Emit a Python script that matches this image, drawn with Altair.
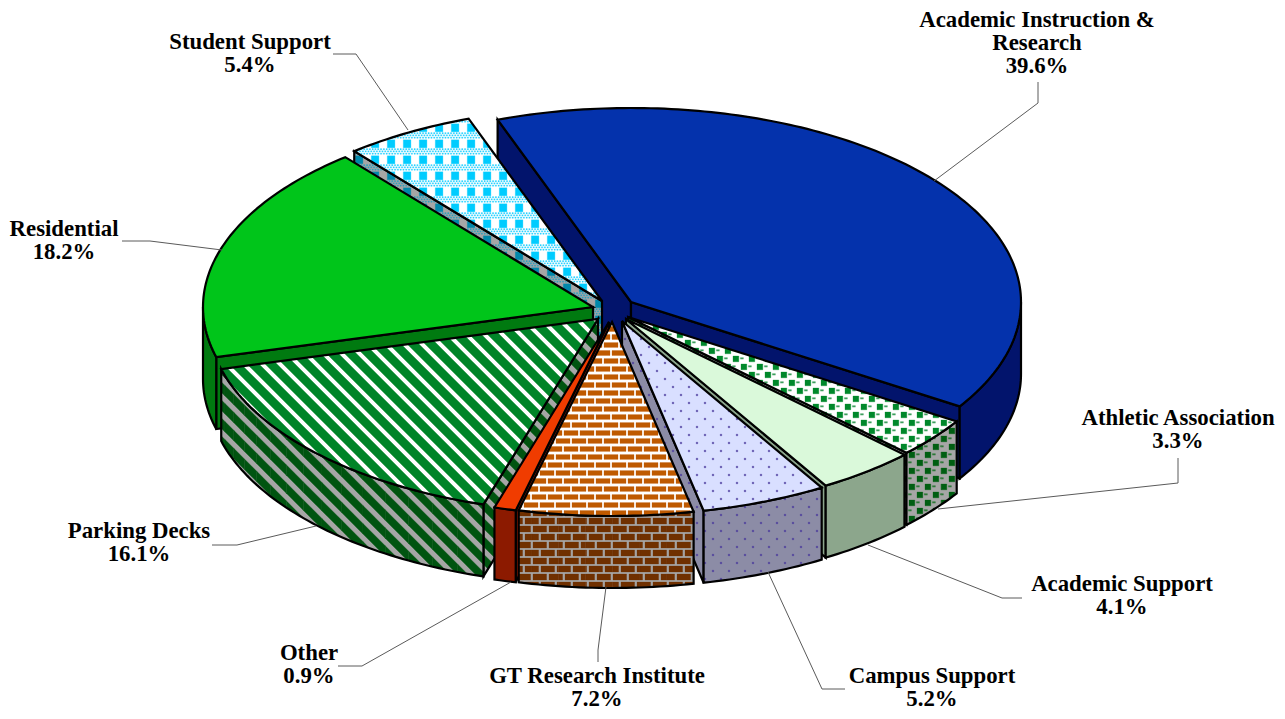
import math
import altair as alt
import pandas as pd

alt.data_transformers.disable_max_rows()

CATEGORIES = ["Academic Instruction & Research", "Athletic Association", "Academic Support",
              "Campus Support", "GT Research Institute", "Other", "Parking Decks",
              "Residential", "Student Support"]
SHARES = [39.6, 3.3, 4.1, 5.2, 7.2, 0.9, 16.1, 18.2, 5.4]

LABEL_LINES = [["Academic Instruction &", "Research", "39.6%"], ["Athletic Association", "3.3%"],
               ["Academic Support", "4.1%"], ["Campus Support", "5.2%"],
               ["GT Research Institute", "7.2%"], ["Other", "0.9%"], ["Parking Decks", "16.1%"],
               ["Residential", "18.2%"], ["Student Support", "5.4%"]]
LABEL_AT = [(1037, 20), (1178, 418), (1122, 584), (932, 676), (597, 676), (309, 653), (139, 531), (64, 229), (250, 42)]
LEADERS = [[(1038, 82), (1038, 103), (934, 181)], [(1178, 458), (1178, 483), (938, 509)],
           [(1022, 598), (1002, 598), (868, 545)], [(845, 689), (822, 689), (768, 572)],
           [(598, 662), (598, 650), (606, 587)], [(338, 666), (362, 666), (511, 582)],
           [(212, 545), (237, 545), (316, 526)], [(122, 241), (150, 241), (222, 250)],
           [(333, 54), (356, 54), (408, 130)]]

RX, RY, DEPTH = 390.0, 194.0, 72.0
START = -20.0
APEX = [(631, 302), (628, 317), (626, 319), (622, 321), (612, 322), (609, 322), (598, 319), (593, 307), (602, 301)]
PAINT = [0, 8, 7, 6, 1, 2, 3, 5, 4]
TOP = ["#0432AC", "#FFFFFF", "#DAF9DA", "#D9DFFF", "#FFFFFF", "#F03C00", "#FFFFFF", "#00C51A", "#FFFFFF"]
SIDE = ["#02146C", "#A6A6A6", "#8CA68C", "#8C8CA6", "#A6A6A6", "#8C1A00", "#A6A6A6", "#007A10", "#A6A6A6"]

rows = []
pid = 0


def add(poly, fill, stroke="transparent", sw=0.0):
    global pid
    pid += 1
    for i, (x, y) in enumerate(poly):
        rows.append(dict(x=round(x, 2), y=round(y, 2), pid=pid, pt=i, fill=fill, stroke=stroke, sw=sw))


def area(p):
    return sum(p[i - 1][0] * p[i][1] - p[i][0] * p[i - 1][1] for i in range(len(p))) / 2


def clip(subject, region):
    s = 1 if area(region) > 0 else -1
    out = subject
    for i in range(len(region)):
        a, b = region[i - 1], region[i]
        inp, out = out, []
        side = lambda q: s * ((b[0] - a[0]) * (q[1] - a[1]) - (b[1] - a[1]) * (q[0] - a[0]))
        for j in range(len(inp)):
            p, q = inp[j - 1], inp[j]
            sp, sq = side(p), side(q)
            if (sp >= 0) != (sq >= 0):
                t = sp / (sp - sq)
                out.append((p[0] + t * (q[0] - p[0]), p[1] + t * (q[1] - p[1])))
            if sq >= 0:
                out.append(q)
        if not out:
            return []
    return out


def rect(x, y, w, h):
    return [(x, y), (x + w, y), (x + w, y + h), (x, y + h)]


def bbox(r):
    xs = [p[0] for p in r]
    ys = [p[1] for p in r]
    return min(xs), min(ys), max(xs), max(ys)


def lattice(r, px, py, x0, y0, stagger, w, h):
    a, b, c, d = bbox(r)
    j = math.floor((b - y0) / py) - 1
    while y0 + j * py < d + 1:
        y = y0 + j * py
        off = stagger * (j % 2)
        i = math.floor((a - x0) / px) - 1
        while x0 + i * px < c + 1:
            yield rect(x0 + i * px + off, y, w, h)
            i += 1
        j += 1


def stripes(r, period, c0, width):
    a, b, cc, d = bbox(r)
    k = math.floor((a - d - c0) / period) - 1
    while c0 + k * period < cc - b + 1:
        c = c0 + k * period
        yield [(b - 2 + c, b - 2), (b - 2 + c + width, b - 2), (d + 2 + c + width, d + 2), (d + 2 + c, d + 2)]
        k += 1


def textured(idx, regions, wall):
    for r in regions:
        tiles = []
        if idx == 1:
            col = "#005E12" if wall else "#00882B"
            tiles += [(t, col) for t in lattice(r, 16, 8, 829, 388, 8, 5.8, 5.8)]
            tiles += [(t, "#3FA05F" if not wall else "#2F7A3A") for t in lattice(r, 16, 8, 836.4, 389.6, 8, 3, 1.5)]
        elif idx == 3:
            col = "#4A3A9E"
            tiles += [(t, col) for t in lattice(r, 16, 8, 704.2, 466.2, 8, 1.6, 1.6)]
        elif idx == 4:
            if wall:
                tiles += [(t, "#703000") for t in lattice(r, 16, 8, 525, 518, 8, 13.6, 6.0)]
            else:
                tiles += [(t, "#BF5A00") for t in lattice(r, 16, 8, 548, 462.6, 8, 14, 4.8)]
        elif idx == 6:
            if wall:
                tiles += [(t, "#005410") for t in stripes(r, 18, -81, 10.5)]
            else:
                tiles += [(t, "#008428") for t in stripes(r, 18, -81, 12)]
        elif idx == 8:
            col = "#0088AA" if wall else "#00CCFF"
            dot = "#2FA3BF" if wall else "#29D3FF"
            tiles += [(t, col) for t in lattice(r, 16, 16, 403.3, 139.8, 0, 7.6, 8)]
            for yy in (148.6, 150.8, 153.0):
                tiles += [(t, dot) for t in lattice(r, 2.8, 16, 400 + (yy - 148.6) * 0.64, yy, 0, 1.3, 1.3)]
        for t, col in tiles:
            a, b, c, d = bbox(t)
            e, f, g, h = bbox(r)
            if c < e or a > g or d < f or b > h:
                continue
            p = clip(t, r)
            if len(p) >= 3 and abs(area(p)) > 0.05:
                add(p, col, col, 0.3)


OUT = "#000000"
SW = 2.2
total = sum(SHARES)
spans = []
a = START
for v in SHARES:
    spans.append((a, a + v / total * 360))
    a += v / total * 360


def rim(i, deg):
    t = math.radians(deg)
    return (APEX[i][0] + RX * math.sin(t), APEX[i][1] - RY * math.cos(t))


def down(p):
    return (p[0], p[1] + DEPTH)


def arc(i, a0, a1):
    n = max(2, int((a1 - a0) / 1.0) + 1)
    return [rim(i, a0 + (a1 - a0) * k / n) for k in range(n + 1)]


for i in PAINT:
    a0, a1 = spans[i]
    ap = APEX[i]
    mid = rim(i, (a0 + a1) / 2)
    for deg in (a0, a1):
        e = rim(i, deg)
        nx, ny = -(e[1] - ap[1]), e[0] - ap[0]
        if nx * (mid[0] - ap[0]) + ny * (mid[1] - ap[1]) > 0:
            nx, ny = -nx, -ny
        if ny > 0:
            quad = [ap, e, down(e), down(ap)]
            add(quad, SIDE[i])
            textured(i, [quad], True)
            add(quad, "transparent", OUT, SW)
    w0, w1 = max(a0, 90), min(a1, 270)
    if w1 > w0:
        edge = arc(i, w0, w1)
        wall = edge + [down(p) for p in reversed(edge)]
        add(wall, SIDE[i])
        step = 4
        cells = []
        k = 0
        while k < len(edge) - 1:
            m = min(k + step, len(edge) - 1)
            cells.append([edge[k], edge[m], down(edge[m]), down(edge[k])])
            k = m
        textured(i, cells, True)
        add(wall, "transparent", OUT, SW)
    top = [ap] + arc(i, a0, a1)
    add(top, TOP[i])
    textured(i, [top], False)
    add(top, "transparent", OUT, SW)

X = alt.X("x:Q", axis=None, scale=alt.Scale(domain=[8, 1277], range=[0, 1269]))
Y = alt.Y("y:Q", axis=None, scale=alt.Scale(domain=[8, 711], range=[0, 703]))

solid = alt.Chart(pd.DataFrame(rows)).mark_line(interpolate="linear-closed", strokeJoin="miter").encode(
    x=X, y=Y, order="pt:Q", detail="pid:N",
    fill=alt.Fill("fill:N", scale=None, legend=None),
    stroke=alt.Stroke("stroke:N", scale=None, legend=None),
    strokeWidth=alt.StrokeWidth("sw:Q", scale=None, legend=None),
)

lead_rows = [dict(x=x, y=y, name=CATEGORIES[i], pt=j) for i, ln in enumerate(LEADERS) for j, (x, y) in enumerate(ln)]
leaders = alt.Chart(pd.DataFrame(lead_rows)).mark_line(color="#5A5A5A", strokeWidth=1).encode(
    x=X, y=Y, order="pt:Q", detail="name:N")

text_rows = []
for i, lines in enumerate(LABEL_LINES):
    for j, s in enumerate(lines):
        text_rows.append(dict(x=LABEL_AT[i][0], y=LABEL_AT[i][1] + j * 22.9, t=s))
labels = alt.Chart(pd.DataFrame(text_rows)).mark_text(
    font="Liberation Serif", fontWeight="bold", fontSize=22.8, color="#000000", align="center", baseline="middle"
).encode(x=X, y=Y, text="t:N")

chart = alt.layer(solid, leaders, labels).properties(
    width=1269, height=703, padding=0, autosize="none", background="#FFFFFF"
).configure_view(stroke=None)

chart.save("out.html", embed_options={"renderer": "svg", "actions": False})
